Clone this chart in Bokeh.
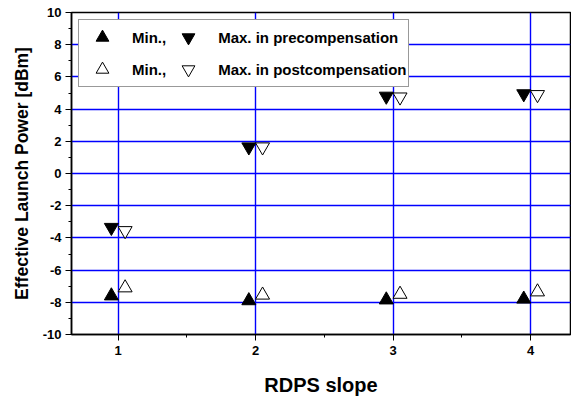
from bokeh.plotting import figure
from bokeh.models import (Range1d, Legend, LegendItem, FixedTicker,
                          ColumnDataSource)
from bokeh.embed import file_html
from bokeh.resources import INLINE

# ---- data ----
slope = [1, 2, 3, 4]
min_pre = [-7.6, -7.9, -7.85, -7.8]
max_pre = [-3.35, 1.65, 4.8, 4.95]
min_post = [-7.1, -7.55, -7.5, -7.35]
max_post = [-3.55, 1.65, 4.75, 4.9]
x_ticks = [1, 2, 3, 4]
x_minor = [1.5, 2.5, 3.5]
y_ticks = [-10, -8, -6, -4, -2, 0, 2, 4, 6, 8, 10]
y_minor = [-9, -7, -5, -3, -1, 1, 3, 5, 7, 9]

FONT = "Liberation Sans"
OFF = 0.05

src = ColumnDataSource(dict(
    xpre=[v - OFF for v in slope],
    xpost=[v + OFF for v in slope],
    min_pre=min_pre, max_pre=max_pre, min_post=min_post, max_post=max_post,
))

p = figure(width=571, height=400, output_backend="svg", toolbar_location=None,
           x_range=Range1d(0.66, 4.29), y_range=Range1d(-10, 10),
           min_border_left=71, min_border_right=1, min_border_top=12,
           min_border_bottom=66)
p.background_fill_color = "white"
p.border_fill_color = "white"
p.outline_line_color = "black"
p.outline_line_width = 1.5

# grid
p.xgrid.ticker = FixedTicker(ticks=x_ticks)
p.ygrid.ticker = FixedTicker(ticks=[-8, -6, -4, -2, 0, 2, 4, 6, 8])
for g in (p.xgrid, p.ygrid):
    g.grid_line_color = "#0000ff"
    g.grid_line_width = 1.4

# axes
p.xaxis.ticker = FixedTicker(ticks=x_ticks, minor_ticks=x_minor)
p.yaxis.ticker = FixedTicker(ticks=y_ticks, minor_ticks=y_minor)
p.yaxis.major_label_overrides = {t: str(t) for t in y_ticks}
for ax in (p.xaxis[0], p.yaxis[0]):
    ax.axis_line_color = "black"
    ax.axis_line_width = 1.5
    ax.major_tick_line_color = "black"
    ax.minor_tick_line_color = "black"
    ax.major_tick_out = 6
    ax.major_tick_in = 0
    ax.minor_tick_out = 3
    ax.minor_tick_in = 0
    ax.major_label_text_font = FONT
    ax.major_label_text_font_style = "bold"
    ax.major_label_text_font_size = "13px"
    ax.major_label_text_color = "black"
    ax.axis_label_text_font = FONT
    ax.axis_label_text_font_style = "bold"
    ax.axis_label_text_color = "black"

p.xaxis.axis_label = "RDPS slope"
p.xaxis.axis_label_text_font_size = "20px"
p.xaxis.major_label_standoff = 5
p.xaxis.axis_label_standoff = 16
p.yaxis.axis_label = "Effective Launch Power [dBm]"
p.yaxis.axis_label_text_font_size = "17.5px"
p.yaxis.major_label_standoff = 4
p.yaxis.axis_label_standoff = 8

# markers
S = 14
r1 = p.scatter("xpre", "min_pre", source=src, marker="triangle", size=S,
               fill_color="black", line_color="black", line_width=1)
r2 = p.scatter("xpre", "max_pre", source=src, marker="inverted_triangle", size=S,
               fill_color="black", line_color="black", line_width=1)
r3 = p.scatter("xpost", "min_post", source=src, marker="triangle", size=S,
               fill_color="white", line_color="black", line_width=1)
r4 = p.scatter("xpost", "max_post", source=src, marker="inverted_triangle", size=S,
               fill_color="white", line_color="black", line_width=1)

legend = Legend(items=[
    LegendItem(label="Min.,", renderers=[r1]),
    LegendItem(label="Min.,", renderers=[r3]),
    LegendItem(label="Max. in precompensation", renderers=[r2]),
    LegendItem(label="Max. in postcompensation", renderers=[r4]),
], ncols=2, location="top_left")
legend.label_text_font = FONT
legend.label_text_font_style = "bold"
legend.label_text_font_size = "15px"
legend.label_text_color = "black"
legend.border_line_color = "#333333"
legend.border_line_width = 1.5
legend.background_fill_color = "white"
legend.background_fill_alpha = 1
legend.margin = 7
legend.padding = 1
legend.spacing = -8
legend.glyph_width = 44
legend.glyph_height = 32
legend.label_standoff = 8
legend.label_height = 32
p.add_layout(legend)

open("out.html", "w").write(file_html(p, INLINE))
